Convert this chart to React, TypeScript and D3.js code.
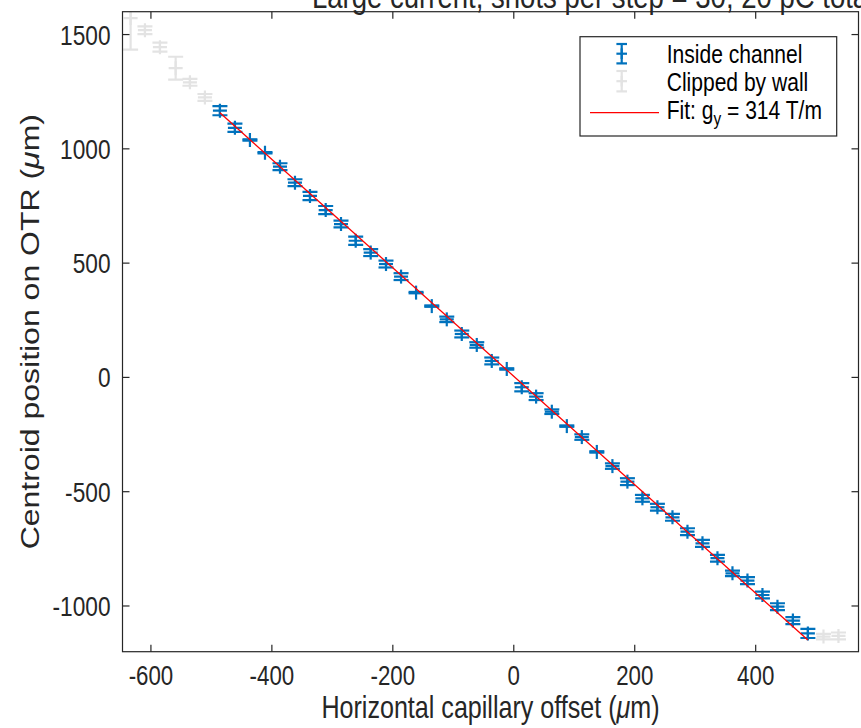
import React from 'react';
import * as d3 from 'd3';

// ---------- data ----------
const xOffsets = [
  -633.6, -609.9, -585.1, -559.1, -535.5, -510.7, -485.9, -461.1, -436.3, -411.4,
  -386.6, -361.8, -337.0, -311.0, -285.7, -261.4, -236.6, -211.3, -186.4, -161.6,
  -135.6, -110.8, -86.0, -61.2, -36.4, -11.6, 13.2, 36.9, 62.9, 87.7,
  112.5, 137.3, 163.1, 187.9, 212.7, 237.5, 262.4, 287.2, 312.0, 336.8,
  361.6, 386.4, 411.2, 436.0, 461.5, 486.3, 512.1, 536.9,
];
const centroids = [
  1572, 1519, 1445, 1353, 1291, 1225, 1167, 1092, 1039, 983,
  922, 852, 794, 732, 671, 598, 546, 496, 441, 371,
  312, 254, 190, 142, 72, 37, -43, -84, -150, -213,
  -261, -326, -388, -456, -529, -568, -612, -675, -726, -791,
  -857, -889, -952, -1003, -1064, -1120, -1134, -1131,
];
const errors = [
  138, 17, 20, 50, 15, 15, 20, 18, 3, 3,
  15, 15, 18, 18, 15, 18, 15, 15, 15, 3,
  3, 12, 15, 12, 15, 3, 18, 15, 10, 3,
  12, 3, 12, 15, 15, 15, 15, 15, 15, 15,
  12, 15, 15, 15, 15, 20, 12, 15,
];
// 1 = inside channel, 0 = clipped by wall
const insideChannel = [
  0, 0, 0, 0, 0, 0, 1, 1, 1, 1,
  1, 1, 1, 1, 1, 1, 1, 1, 1, 1,
  1, 1, 1, 1, 1, 1, 1, 1, 1, 1,
  1, 1, 1, 1, 1, 1, 1, 1, 1, 1,
  1, 1, 1, 1, 1, 1, 0, 0,
];
const fitSlope = -2.372; // um per um
const fitIntercept = 5;
const xTicks = [-600, -400, -200, 0, 200, 400];
const yTicks = [-1000, -500, 0, 500, 1000, 1500];
const legendLabels = ['Inside channel', 'Clipped by wall'];
const titleText = 'Large current, shots per step = 30, 20 pC total';

// ---------- layout ----------
const W = 861, H = 728;
const L = 122.5, R = 858.5, T = 11.7, B = 651.7;
const SX = 0.81;
const FONT = '"Liberation Sans", Arial, Helvetica, sans-serif';
const AX = '#262626';
const BLUE = '#0072BD';
const GRAY = '#E3E3E3';

const x = d3.scaleLinear().domain([-647, 570]).range([L, R]);
const y = d3.scaleLinear().domain([-1200, 1600]).range([B, T]);

function HText(props: any) {
  const { x: tx, y: ty, rotate, size, anchor, fill, children, style } = props;
  return (
    <text
      transform={`translate(${tx},${ty}) scale(${SX},1)${rotate ? ` rotate(${rotate})` : ''}`}
      textAnchor={anchor || 'start'}
      fontSize={size}
      fontFamily={FONT}
      fill={fill || AX}
      style={style}
    >
      {children}
    </text>
  );
}

function ErrBar({ cx, cy, top, bot, color, cap, mk, sw }: any) {
  return (
    <g stroke={color} strokeWidth={sw} fill="none">
      <line x1={cx} x2={cx} y1={top} y2={bot} />
      <line x1={cx - cap} x2={cx + cap} y1={top} y2={top} />
      <line x1={cx - cap} x2={cx + cap} y1={bot} y2={bot} />
      <line x1={cx - mk} x2={cx + mk} y1={cy} y2={cy} />
      <line x1={cx} x2={cx} y1={cy - mk} y2={cy + mk} />
    </g>
  );
}

export default function App() {
  const pts = xOffsets.map((xv, i) => ({ x: xv, y: centroids[i], e: errors[i], inside: insideChannel[i] === 1 }));
  const insidePts = pts.filter((p) => p.inside);
  const fitX0 = d3.min(insidePts, (p) => p.x) as number;
  const fitX1 = d3.max(insidePts, (p) => p.x) as number;
  const fitLine = d3.line<number>().x((v) => x(v)).y((v) => y(fitIntercept + fitSlope * v));

  const tickLen = 7;

  return (
    <svg width={W} height={H} style={{ position: 'absolute', left: 0, top: 0, background: '#fff' }}>
      <defs>
        <clipPath id="plotClip">
          <rect x={L} y={T} width={R - L} height={B - T} />
        </clipPath>
      </defs>
      <rect x={0} y={0} width={W} height={H} fill="#fff" />

      {/* title (mostly cut off at the top, as in the reference) */}
      <HText x={312} y={8} size={34}>{titleText}</HText>

      {/* data */}
      <g clipPath="url(#plotClip)">
        {pts.filter((p) => !p.inside).map((p, i) => (
          <ErrBar key={'g' + i} cx={x(p.x)} cy={y(p.y)} top={y(p.y + p.e)} bot={y(p.y - p.e)} color={GRAY} cap={7.5} mk={7} sw={2.2} />
        ))}
        {insidePts.map((p, i) => (
          <ErrBar key={'b' + i} cx={x(p.x)} cy={y(p.y)} top={y(p.y + p.e)} bot={y(p.y - p.e)} color={BLUE} cap={7.5} mk={7} sw={2.2} />
        ))}
        <path d={fitLine([fitX0, fitX1]) as string} stroke="#FF0000" strokeWidth={1.3} fill="none" />
      </g>

      {/* axes box */}
      <rect x={L} y={T} width={R - L} height={B - T} fill="none" stroke={AX} strokeWidth={1.2} />
      {xTicks.map((t) => (
        <g key={'xt' + t} stroke={AX} strokeWidth={1.2}>
          <line x1={x(t)} x2={x(t)} y1={B} y2={B - tickLen} />
          <line x1={x(t)} x2={x(t)} y1={T} y2={T + tickLen} />
        </g>
      ))}
      {yTicks.map((t) => (
        <g key={'yt' + t} stroke={AX} strokeWidth={1.2}>
          <line x1={L} x2={L + tickLen} y1={y(t)} y2={y(t)} />
          <line x1={R} x2={R - tickLen} y1={y(t)} y2={y(t)} />
        </g>
      ))}
      {xTicks.map((t) => (
        <HText key={'xl' + t} x={x(t)} y={685} size={27.5} anchor="middle">{String(t)}</HText>
      ))}
      {yTicks.map((t) => (
        <HText key={'yl' + t} x={L - 12} y={y(t) + 10} size={28} anchor="end">{String(t)}</HText>
      ))}

      {/* axis labels */}
      <HText x={(L + R) / 2} y={718} size={31} anchor="middle">
        Horizontal capillary offset (<tspan fontStyle="italic">μ</tspan>m)
      </HText>
      <HText x={39} y={(T + B) / 2} size={32} anchor="middle" rotate={-90}>
        Centroid position on OTR (<tspan fontStyle="italic">μ</tspan>m)
      </HText>

      {/* legend */}
      <rect x={580} y={36.7} width={256.7} height={99.3} fill="#fff" stroke={AX} strokeWidth={1.2} />
      <ErrBar cx={621.7} cy={53.7} top={44} bot={63.4} color={BLUE} cap={5.3} mk={5.3} sw={2.2} />
      <ErrBar cx={621.7} cy={81.2} top={71} bot={91.4} color={GRAY} cap={5.3} mk={5.3} sw={2.2} />
      <line x1={590} x2={659} y1={112.7} y2={112.7} stroke="#FF0000" strokeWidth={1.3} />
      <HText x={666.7} y={63.3} size={26} fill="#000">{legendLabels[0]}</HText>
      <HText x={666.7} y={90.5} size={26} fill="#000">{legendLabels[1]}</HText>
      <HText x={666.7} y={119.3} size={26} fill="#000">
        Fit: g<tspan fontSize={19} dy={6}>y</tspan><tspan dy={-6}> = 314 T/m</tspan>
      </HText>
    </svg>
  );
}
